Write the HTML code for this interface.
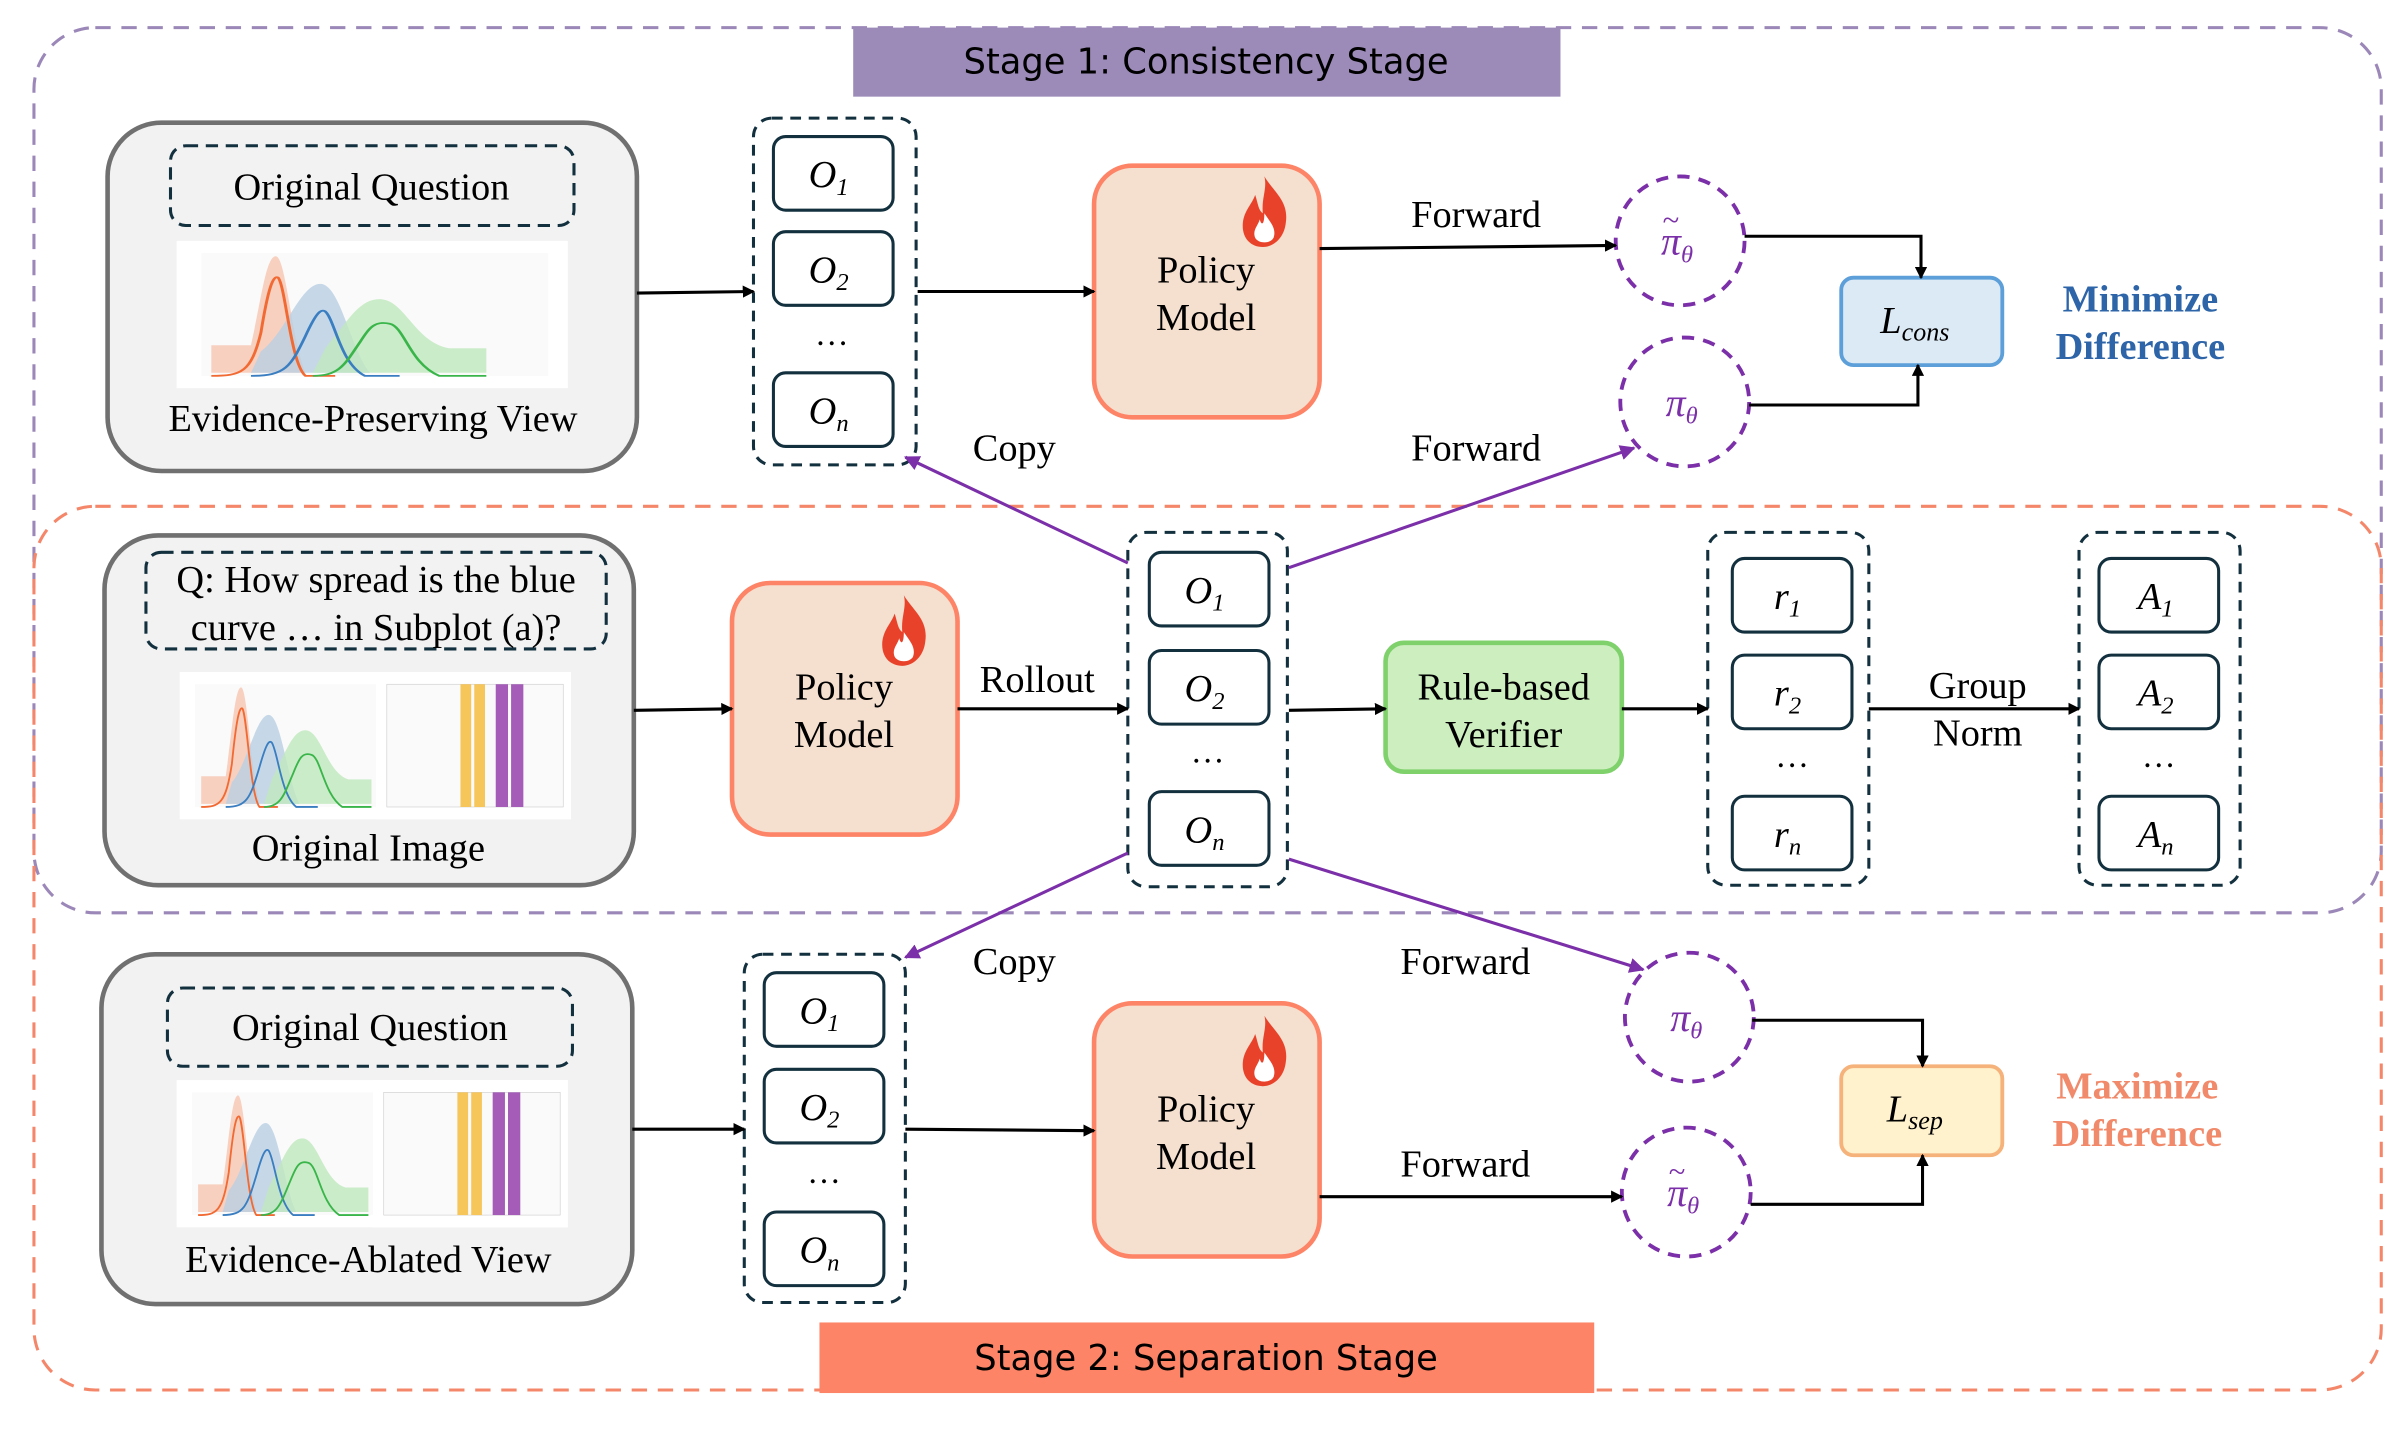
<!DOCTYPE html>
<html><head><meta charset="utf-8"><style>html,body{margin:0;padding:0;background:#fff}svg{display:block}</style></head><body>
<svg width="2406" height="1436" viewBox="0 0 1568 936" xmlns="http://www.w3.org/2000/svg" font-family="Liberation Serif, serif">
<defs>
<marker id="ak" markerWidth="8" markerHeight="8" refX="7" refY="4" orient="auto" markerUnits="userSpaceOnUse"><path d="M0,0 L8,4 L0,8 z" fill="#000"/></marker>
<marker id="ap" markerWidth="10" markerHeight="10" refX="9" refY="5" orient="auto" markerUnits="userSpaceOnUse"><path d="M0,0 L10,5 L0,10 z" fill="#7b2fa8"/></marker>
<g id="flame"><path d="M14,0 C20,10 30,16 28,30 C27,40 20,46 13,46 C5,46 -1,40 0,30 C1,22 6,18 8,12 C10,18 10,22 13,24 C12,14 16,8 14,0 z" fill="#e8432a"/><path d="M14,24 C18,30 22,34 20,40 C18,44 10,44 8,40 C6,35 10,32 11,28 C12,32 14,32 14,24z" fill="#fff"/></g>
<g id="curves">
<rect x="10" y="8" width="140" height="80" fill="#fafafa"/>
<path d="M14,86 L14,68 L30,68 C34,40 36,10 40,10 C44,10 46,60 52,86Z" fill="#f7c6b0" opacity=".8"/>
<path d="M30,86 L34,72 C44,60 50,28 58,28 C66,28 70,70 78,86Z" fill="#b9cfe3" opacity=".8"/>
<path d="M55,86 L60,70 C70,50 74,38 82,38 C92,38 96,66 110,70 L125,70 L125,86Z" fill="#bfe9bd" opacity=".8"/>
<path d="M14,88 C26,88 30,86 34,60 C37,30 39,22 41,24 C44,30 46,80 52,88 L64,88" fill="none" stroke="#f26a33" stroke-width="1.2"/>
<path d="M30,88 C44,88 46,82 52,62 C56,48 58,44 60,46 C64,52 66,80 76,88 L90,88" fill="none" stroke="#3a7ec1" stroke-width="1.2"/>
<path d="M55,88 C66,88 68,80 74,66 C78,56 80,52 86,54 C92,56 94,80 106,88 L125,88" fill="none" stroke="#39b54a" stroke-width="1.2"/>
</g>
<g id="chart2">
<rect width="255" height="96" fill="#fff"/>
<use href="#curves"/>
<rect x="128" y="0" width="127" height="96" fill="#fff"/>
<rect x="135" y="8" width="115" height="80" fill="#fafafa" stroke="#ccc" stroke-width=".4"/>
<rect x="183" y="8" width="7" height="80" fill="#f7c65a"/><rect x="192" y="8" width="7" height="80" fill="#f7c65a"/>
<rect x="206" y="8" width="8" height="80" fill="#a45cb8"/><rect x="216" y="8" width="8" height="80" fill="#a45cb8"/>
</g>
</defs>

<rect x="22" y="18" width="1530" height="577" rx="40" fill="none" stroke="#9b87b8" stroke-width="2" stroke-dasharray="10,7"/>
<rect x="22" y="330" width="1530" height="576" rx="40" fill="none" stroke="#f4876a" stroke-width="2" stroke-dasharray="10,7"/>
<rect x="556" y="18" width="461" height="45" fill="#9c8bb8"/>
<text x="786" y="48" font-family="DejaVu Sans, sans-serif" font-size="23" text-anchor="middle">Stage 1: Consistency Stage</text>
<rect x="534" y="862" width="505" height="46" fill="#fd8466"/>
<text x="786" y="893" font-family="DejaVu Sans, sans-serif" font-size="23" text-anchor="middle">Stage 2: Separation Stage</text>

<g fill="#f2f2f2" stroke="#707070" stroke-width="3">
<rect x="70" y="80" width="345" height="227" rx="35"/>
<rect x="68" y="349" width="345" height="228" rx="35"/>
<rect x="66" y="622" width="346" height="228" rx="35"/>
</g>
<g fill="none" stroke="#13303f" stroke-width="2" stroke-dasharray="8,5">
<rect x="111" y="95" width="263" height="52" rx="10"/>
<rect x="95" y="360" width="300" height="63" rx="10"/>
<rect x="109" y="644" width="264" height="51" rx="10"/>
</g>
<g font-size="25" text-anchor="middle">
<text x="242" y="130">Original Question</text>
<text x="245" y="386">Q: How spread is the blue</text>
<text x="245" y="417">curve … in Subplot (a)?</text>
<text x="241" y="678">Original Question</text>
<text x="243" y="281">Evidence-Preserving View</text>
<text x="240" y="561">Original Image</text>
<text x="240" y="829">Evidence-Ablated View</text>
</g>
<rect x="115" y="157" width="255" height="96" fill="#fff"/>
<g transform="translate(115,157) scale(0.95,1)"><g transform="translate(0,0) scale(1.7,1)"><use href="#curves"/></g></g>
<use href="#chart2" x="117" y="438"/>
<use href="#chart2" x="115" y="704"/>

<g fill="none" stroke="#13303f" stroke-width="2" stroke-dasharray="7,5">
<rect x="491" y="77" width="106" height="226" rx="12"/>
<rect x="735" y="347" width="104" height="231" rx="12"/>
<rect x="485" y="622" width="105" height="227" rx="12"/>
<rect x="1113" y="347" width="105" height="230" rx="12"/>
<rect x="1355" y="347" width="105" height="230" rx="12"/>
</g>
<g fill="#fff" stroke="#13303f" stroke-width="2">
<rect x="504" y="89" width="78" height="48" rx="8"/><rect x="504" y="151" width="78" height="48" rx="8"/><rect x="504" y="243" width="78" height="48" rx="8"/>
<rect x="749" y="360" width="78" height="48" rx="8"/><rect x="749" y="424" width="78" height="48" rx="8"/><rect x="749" y="516" width="78" height="48" rx="8"/>
<rect x="498" y="634" width="78" height="48" rx="8"/><rect x="498" y="697" width="78" height="48" rx="8"/><rect x="498" y="790" width="78" height="48" rx="8"/>
<rect x="1129" y="364" width="78" height="48" rx="8"/><rect x="1129" y="427" width="78" height="48" rx="8"/><rect x="1129" y="519" width="78" height="48" rx="8"/>
<rect x="1368" y="364" width="78" height="48" rx="8"/><rect x="1368" y="427" width="78" height="48" rx="8"/><rect x="1368" y="519" width="78" height="48" rx="8"/>
</g>
<g font-size="25" font-style="italic" text-anchor="middle">
<text x="540" y="122">O<tspan font-size="16" dy="5">1</tspan></text>
<text x="540" y="184">O<tspan font-size="16" dy="5">2</tspan></text>
<text x="540" y="276">O<tspan font-size="16" dy="5">n</tspan></text>
<text x="785" y="393">O<tspan font-size="16" dy="5">1</tspan></text>
<text x="785" y="457">O<tspan font-size="16" dy="5">2</tspan></text>
<text x="785" y="549">O<tspan font-size="16" dy="5">n</tspan></text>
<text x="534" y="667">O<tspan font-size="16" dy="5">1</tspan></text>
<text x="534" y="730">O<tspan font-size="16" dy="5">2</tspan></text>
<text x="534" y="823">O<tspan font-size="16" dy="5">n</tspan></text>
<text x="1165" y="397">r<tspan font-size="16" dy="5">1</tspan></text>
<text x="1165" y="460">r<tspan font-size="16" dy="5">2</tspan></text>
<text x="1165" y="552">r<tspan font-size="16" dy="5">n</tspan></text>
<text x="1405" y="397">A<tspan font-size="16" dy="5">1</tspan></text>
<text x="1405" y="460">A<tspan font-size="16" dy="5">2</tspan></text>
<text x="1405" y="552">A<tspan font-size="16" dy="5">n</tspan></text>
</g>
<g font-size="22" text-anchor="middle">
<text x="542" y="225">…</text><text x="787" y="497">…</text><text x="537" y="771">…</text><text x="1168" y="500">…</text><text x="1407" y="500">…</text>
</g>

<g fill="#f5dfcf" stroke="#fd8466" stroke-width="3">
<rect x="713" y="108" width="147" height="164" rx="25"/>
<rect x="477" y="380" width="147" height="164" rx="25"/>
<rect x="713" y="654" width="147" height="165" rx="25"/>
</g>
<use href="#flame" x="810" y="115"/><use href="#flame" x="575" y="388"/><use href="#flame" x="810" y="662"/>
<g font-size="25" text-anchor="middle">
<text x="786" y="184">Policy</text><text x="786" y="215">Model</text>
<text x="550" y="456">Policy</text><text x="550" y="487">Model</text>
<text x="786" y="731">Policy</text><text x="786" y="762">Model</text>
</g>
<rect x="903" y="419" width="154" height="84" rx="12" fill="#cdeebf" stroke="#7fd16c" stroke-width="3"/>
<text x="980" y="456" font-size="25" text-anchor="middle">Rule-based</text>
<text x="980" y="487" font-size="25" text-anchor="middle">Verifier</text>

<g fill="none" stroke="#7b2fa8" stroke-width="2.5" stroke-dasharray="8,6">
<circle cx="1095" cy="157" r="42"/><circle cx="1098" cy="262" r="42"/>
<circle cx="1101" cy="663" r="42"/><circle cx="1099" cy="777" r="42"/>
</g>
<g font-size="26" font-style="italic" fill="#7b2fa8" text-anchor="middle">
<text x="1093" y="166">π<tspan font-size="16" dy="5">θ</tspan></text>
<text x="1089" y="150" font-size="20" font-style="normal">~</text>
<text x="1096" y="271">π<tspan font-size="16" dy="5">θ</tspan></text>
<text x="1099" y="672">π<tspan font-size="16" dy="5">θ</tspan></text>
<text x="1097" y="786">π<tspan font-size="16" dy="5">θ</tspan></text>
<text x="1093" y="770" font-size="20" font-style="normal">~</text>
</g>
<rect x="1200" y="181" width="105" height="57" rx="8" fill="#dceaf6" stroke="#5d9fd9" stroke-width="2.5"/>
<text x="1248" y="217" font-size="25" font-style="italic" text-anchor="middle">L<tspan font-size="17" dy="5">cons</tspan></text>
<rect x="1200" y="695" width="105" height="58" rx="8" fill="#fff2cc" stroke="#f5b27a" stroke-width="2.5"/>
<text x="1248" y="731" font-size="25" font-style="italic" text-anchor="middle">L<tspan font-size="17" dy="5">sep</tspan></text>
<g font-size="25" font-weight="bold" text-anchor="middle">
<text x="1395" y="203" fill="#2d65a8">Minimize</text><text x="1395" y="234" fill="#2d65a8">Difference</text>
<text x="1393" y="716" fill="#f08a6a">Maximize</text><text x="1393" y="747" fill="#f08a6a">Difference</text>
</g>

<g fill="none" stroke="#000" stroke-width="2" marker-end="url(#ak)">
<path d="M415,191 L491,190"/><path d="M598,190 L713,190"/><path d="M860,162 L1053,160"/>
<path d="M1137,154 L1252,154 L1252,181"/><path d="M1140,264 L1250,264 L1250,238"/>
<path d="M413,463 L477,462"/><path d="M624,462 L735,462"/><path d="M840,463 L903,462"/>
<path d="M1057,462 L1113,462"/><path d="M1218,462 L1355,462"/>
<path d="M412,736 L485,736"/><path d="M590,736 L713,737"/>
<path d="M1142,665 L1253,665 L1253,695"/><path d="M860,780 L1057,780"/><path d="M1141,785 L1253,785 L1253,753"/>
</g>
<g fill="none" stroke="#7b2fa8" stroke-width="2" marker-end="url(#ap)">
<path d="M735,367 L590,298"/><path d="M840,370 L1065,292"/>
<path d="M735,556 L590,624"/><path d="M840,560 L1071,632"/>
</g>
<g font-size="25" text-anchor="middle">
<text x="962" y="148">Forward</text><text x="661" y="300">Copy</text><text x="962" y="300">Forward</text>
<text x="676" y="451">Rollout</text><text x="1289" y="455">Group</text><text x="1289" y="486">Norm</text>
<text x="661" y="635">Copy</text><text x="955" y="635">Forward</text><text x="955" y="767">Forward</text>
</g>
</svg>
</body></html>
